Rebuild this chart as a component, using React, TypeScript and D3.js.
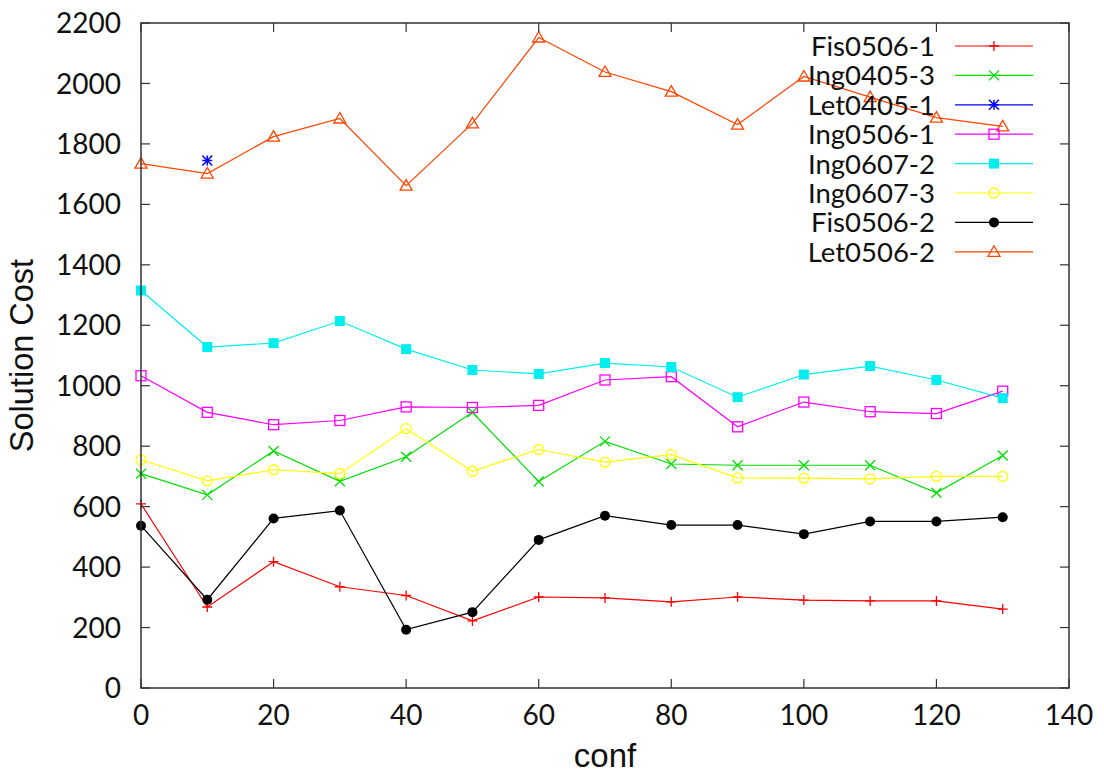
import * as d3 from "d3";
import React from "react";

const width = 1104;
const height = 775;
const margin = { top: 23, right: 35, bottom: 87, left: 141 };

const confs = [0, 10, 20, 30, 40, 50, 60, 70, 80, 90, 100, 110, 120, 130];
const xTicks = [0, 20, 40, 60, 80, 100, 120, 140];
const yTicks = [0, 200, 400, 600, 800, 1000, 1200, 1400, 1600, 1800, 2000, 2200];

const fis0506_1 = [609, 268, 418, 335, 306, 222, 301, 298, 285, 301, 291, 288, 288, 261];
const ing0405_3 = [709, 639, 784, 684, 765, 912, 683, 816, 741, 737, 737, 737, 646, 769];
const let0405_1 = [null, 1745, null, null, null, null, null, null, null, null, null, null, null, null];
const ing0506_1 = [1033, 912, 871, 885, 930, 928, 935, 1019, 1030, 864, 946, 914, 908, 982];
const ing0607_2 = [1315, 1128, 1141, 1214, 1121, 1052, 1039, 1075, 1062, 962, 1037, 1065, 1019, 959];
const ing0607_3 = [755, 685, 722, 709, 858, 717, 789, 747, 772, 695, 694, 692, 700, 700];
const fis0506_2 = [537, 292, 561, 587, 193, 251, 490, 570, 539, 539, 509, 551, 551, 565];
const let0506_2 = [1735, 1702, 1824, 1884, 1662, 1868, 2152, 2038, 1973, 1864, 2023, 1955, 1887, 1858];

const series = [
  { name: "Fis0506-1", values: fis0506_1, color: "#ff0000", marker: "plus" },
  { name: "Ing0405-3", values: ing0405_3, color: "#00e000", marker: "cross" },
  { name: "Let0405-1", values: let0405_1, color: "#0000ff", marker: "star" },
  { name: "Ing0506-1", values: ing0506_1, color: "#ff00ff", marker: "square" },
  { name: "Ing0607-2", values: ing0607_2, color: "#00eeee", marker: "fsquare" },
  { name: "Ing0607-3", values: ing0607_3, color: "#ffff00", marker: "circle" },
  { name: "Fis0506-2", values: fis0506_2, color: "#000000", marker: "fcircle" },
  { name: "Let0506-2", values: let0506_2, color: "#ff4500", marker: "triangle" },
];

const font = "Lato, 'Open Sans', sans-serif";
const titleFont = "'Liberation Sans', Arial, sans-serif";

function Marker({ type, x, y, color }: any) {
  const s = 5;
  switch (type) {
    case "plus":
      return <path d={`M${x - s},${y}H${x + s}M${x},${y - s}V${y + s}`} stroke={color} strokeWidth={1.3} />;
    case "cross":
      return <path d={`M${x - s},${y - s}L${x + s},${y + s}M${x - s},${y + s}L${x + s},${y - s}`} stroke={color} strokeWidth={1.3} />;
    case "star":
      return (
        <path
          d={`M${x - s},${y}H${x + s}M${x},${y - s}V${y + s}M${x - s},${y - s}L${x + s},${y + s}M${x - s},${y + s}L${x + s},${y - s}`}
          stroke={color}
          strokeWidth={1.5}
        />
      );
    case "square":
      return <rect x={x - s} y={y - s} width={2 * s} height={2 * s} fill="none" stroke={color} strokeWidth={1.3} />;
    case "fsquare":
      return <rect x={x - s} y={y - s} width={2 * s} height={2 * s} fill={color} />;
    case "circle":
      return <circle cx={x} cy={y} r={s} fill="none" stroke={color} strokeWidth={1.3} />;
    case "fcircle":
      return <circle cx={x} cy={y} r={s} fill={color} />;
    case "triangle":
      return <path d={`M${x},${y - 6}L${x + 6},${y + 4.5}L${x - 6},${y + 4.5}Z`} fill="none" stroke={color} strokeWidth={1.3} />;
  }
  return null;
}

export default function App() {
  const x = d3.scaleLinear().domain([0, 140]).range([margin.left, width - margin.right]);
  const y = d3.scaleLinear().domain([0, 2200]).range([height - margin.bottom, margin.top]);
  const x0 = margin.left;
  const x1 = width - margin.right;
  const y0 = height - margin.bottom;
  const y1 = margin.top;
  const tick = 9;
  const axisColor = "#333";

  const legendTextX = 935;
  const legendLine = [955, 1033];
  const legendY0 = 46;
  const legendStep = 29.4;

  return (
    <svg width={width} height={height} style={{ position: "absolute", left: 0, top: 0, background: "#fff" }}>
      {/* series */}
      {series.map((s) => {
        const pts = confs
          .map((c, i) => ({ c, v: s.values[i] }))
          .filter((p) => p.v !== null) as { c: number; v: number }[];
        const line = d3
          .line<{ c: number; v: number }>()
          .x((d) => x(d.c))
          .y((d) => y(d.v));
        return (
          <g key={s.name}>
            {pts.length > 1 && <path d={line(pts) as string} fill="none" stroke={s.color} strokeWidth={1.2} />}
            {pts.map((p, i) => (
              <Marker key={i} type={s.marker} x={x(p.c)} y={y(p.v)} color={s.color} />
            ))}
          </g>
        );
      })}

      {/* frame and ticks */}
      <rect x={x0} y={y1} width={x1 - x0} height={y0 - y1} fill="none" stroke={axisColor} strokeWidth={1.5} />
      {yTicks.map((t) => (
        <g key={"y" + t}>
          <line x1={x0} x2={x0 + tick} y1={y(t)} y2={y(t)} stroke={axisColor} strokeWidth={1.2} />
          <line x1={x1} x2={x1 - tick} y1={y(t)} y2={y(t)} stroke={axisColor} strokeWidth={1.2} />
          <text x={x0 - 20} y={y(t)} dy="0.36em" textAnchor="end" fontFamily={font} fontSize={28} fill="#111">
            {t}
          </text>
        </g>
      ))}
      {xTicks.map((t) => (
        <g key={"x" + t}>
          <line x1={x(t)} x2={x(t)} y1={y0} y2={y0 - tick} stroke={axisColor} strokeWidth={1.2} />
          <line x1={x(t)} x2={x(t)} y1={y1} y2={y1 + tick} stroke={axisColor} strokeWidth={1.2} />
          <text x={x(t)} y={y0 + 37} textAnchor="middle" fontFamily={font} fontSize={28} fill="#111">
            {t}
          </text>
        </g>
      ))}

      {/* axis titles */}
      <text x={605} y={767} textAnchor="middle" fontFamily={titleFont} fontSize={33} fill="#111">
        conf
      </text>
      <text
        transform={`translate(33,${(y0 + y1) / 2}) rotate(-90)`}
        textAnchor="middle"
        fontFamily={titleFont}
        fontSize={32.5}
        fill="#111"
      >
        Solution Cost
      </text>

      {/* legend */}
      {series.map((s, i) => {
        const ly = legendY0 + i * legendStep;
        return (
          <g key={"lg" + s.name}>
            <text x={legendTextX} y={ly} dy="0.36em" textAnchor="end" fontFamily={font} fontSize={27.5} fill="#111">
              {s.name}
            </text>
            <line x1={legendLine[0]} x2={legendLine[1]} y1={ly} y2={ly} stroke={s.color} strokeWidth={1.2} />
            <Marker type={s.marker} x={(legendLine[0] + legendLine[1]) / 2} y={ly} color={s.color} />
          </g>
        );
      })}
    </svg>
  );
}
